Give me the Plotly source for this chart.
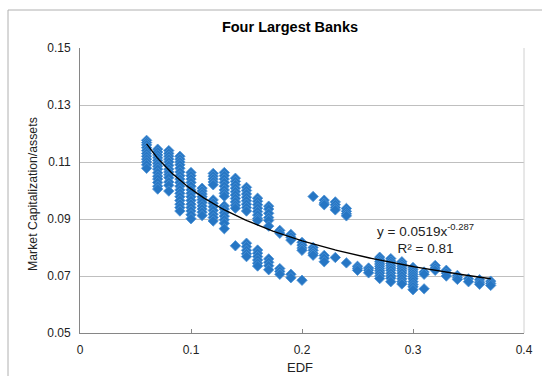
import numpy as np
import plotly.graph_objects as go

# EDF levels (x) and market capitalization / assets readings per level (y)
edf_columns = [0.06, 0.07, 0.08, 0.09, 0.10, 0.11, 0.12, 0.13, 0.14, 0.15,
               0.16, 0.17, 0.18, 0.19, 0.20, 0.21, 0.22, 0.23, 0.24, 0.25,
               0.26, 0.27, 0.28, 0.29, 0.30, 0.31, 0.32, 0.33, 0.34, 0.35,
               0.36, 0.37]
mcap_by_column = [
    [0.1176, 0.1168, 0.1160, 0.1150, 0.1140, 0.1130, 0.1120, 0.1110, 0.1100, 0.1090, 0.1078],
    [0.1145, 0.1135, 0.1125, 0.1115, 0.1105, 0.1095, 0.1085, 0.1075, 0.1062, 0.1050, 0.1040, 0.1028, 0.1015, 0.1005],
    [0.1140, 0.1130, 0.1120, 0.1110, 0.1100, 0.1088, 0.1075, 0.1065, 0.1055, 0.1045, 0.1030, 0.1018, 0.0998],
    [0.1120, 0.1110, 0.1100, 0.1090, 0.1078, 0.1065, 0.1052, 0.1040, 0.1028, 0.1015, 0.1002, 0.0990, 0.0978, 0.0965, 0.0952, 0.0940, 0.0928],
    [0.1063, 0.1052, 0.1040, 0.1028, 0.1015, 0.1002, 0.0990, 0.0978, 0.0965, 0.0952, 0.0940, 0.0928, 0.0915, 0.0901],
    [0.1008, 0.0998, 0.0988, 0.0978, 0.0968, 0.0958, 0.0946, 0.0935, 0.0924, 0.0912],
    [0.1060, 0.1050, 0.1040, 0.1030, 0.1020, 0.0967, 0.0955, 0.0943, 0.0930, 0.0917, 0.0905, 0.0893],
    [0.1063, 0.1052, 0.1040, 0.1028, 0.1015, 0.1002, 0.0990, 0.0980, 0.0946, 0.0935, 0.0922, 0.0910, 0.0897, 0.0885, 0.0866],
    [0.1043, 0.1032, 0.1020, 0.1008, 0.0996, 0.0984, 0.0972, 0.0960, 0.0948, 0.0938, 0.0806],
    [0.1011, 0.1000, 0.0988, 0.0976, 0.0964, 0.0952, 0.0940, 0.0928, 0.0815, 0.0803, 0.0790, 0.0778, 0.0768],
    [0.0973, 0.0962, 0.0950, 0.0938, 0.0926, 0.0914, 0.0902, 0.0895, 0.0791, 0.0780, 0.0768, 0.0756, 0.0745, 0.0735],
    [0.0945, 0.0935, 0.0920, 0.0905, 0.0895, 0.0875, 0.0760, 0.0748, 0.0736, 0.0722],
    [0.0860, 0.0850, 0.0726, 0.0716, 0.0706],
    [0.0846, 0.0836, 0.0826, 0.0706, 0.0694],
    [0.0818, 0.0808, 0.0798, 0.0790, 0.0685],
    [0.0979, 0.0800, 0.0790, 0.0780, 0.0773],
    [0.0966, 0.0956, 0.0950, 0.0772, 0.0762, 0.0750],
    [0.0960, 0.0950, 0.0940, 0.0932, 0.0765],
    [0.0937, 0.0927, 0.0918, 0.0911, 0.0746],
    [0.0734, 0.0727, 0.0720],
    [0.0728, 0.0720, 0.0711],
    [0.0766, 0.0758, 0.0750, 0.0742, 0.0734, 0.0726, 0.0718, 0.0710, 0.0700, 0.0691],
    [0.0761, 0.0752, 0.0744, 0.0736, 0.0728, 0.0720, 0.0710, 0.0700, 0.0692, 0.0680],
    [0.0750, 0.0742, 0.0734, 0.0726, 0.0718, 0.0710, 0.0700, 0.0690, 0.0680, 0.0672],
    [0.0730, 0.0722, 0.0714, 0.0706, 0.0698, 0.0690, 0.0680, 0.0670, 0.0662, 0.0652],
    [0.0714, 0.0706, 0.0655],
    [0.0737, 0.0728, 0.0720],
    [0.0720, 0.0710, 0.0700],
    [0.0702, 0.0694, 0.0688],
    [0.0690, 0.0680],
    [0.0687, 0.0678, 0.0671],
    [0.0682, 0.0674, 0.0667],
]

# Power trendline y = a * x^b shown on the chart
trend_a = 0.0519
trend_b = -0.287
trend_r2 = 0.81

x_ticks = [0, 0.1, 0.2, 0.3, 0.4]
y_ticks = [0.05, 0.07, 0.09, 0.11, 0.13, 0.15]

edf = [x for x, ys in zip(edf_columns, mcap_by_column) for _ in ys]
mcap = [y for ys in mcap_by_column for y in ys]

xt = np.linspace(min(edf), max(edf), 200)
yt = trend_a * xt ** trend_b

FONT = "Liberation Sans, Arial, sans-serif"
L, R, T, B = 80, 18, 48, 43
PW, PH = 542 - L - R, 376 - T - B


def px_x(p):
    return (p - L) / PW


def px_y(p):
    return (376 - B - p) / PH


fig = go.Figure()
fig.add_trace(go.Scatter(
    x=edf, y=mcap, mode="markers",
    marker=dict(symbol="diamond", size=8, color="#2676c4",
                line=dict(color="#4a90d4", width=0.8)),
    showlegend=False, hoverinfo="x+y"))
fig.add_trace(go.Scatter(
    x=xt, y=yt, mode="lines", line=dict(color="black", width=1.4),
    showlegend=False, hoverinfo="skip"))

fig.update_layout(
    width=542, height=376,
    margin=dict(l=L, r=R, t=T, b=B, autoexpand=False),
    paper_bgcolor="white", plot_bgcolor="white",
    font=dict(family=FONT, color="#222", size=12),
    title=dict(text="<b>Four Largest Banks</b>", xref="paper", x=px_x(290),
               xanchor="center", yref="container",
               y=1 - 27 / 376, yanchor="middle",
               font=dict(family=FONT, size=14.5, color="black")),
    xaxis=dict(range=[0, 0.4], tickvals=x_ticks,
               ticktext=[f"{v:g}" for v in x_ticks],
               showgrid=False, zeroline=False, automargin=False,
               showline=True, linecolor="#868686", linewidth=1,
               ticks="inside", ticklen=4, tickcolor="#868686",
               ticklabelstandoff=6,
               tickfont=dict(size=12, color="#222")),
    yaxis=dict(range=[0.05, 0.15], tickvals=y_ticks,
               ticktext=[f"{v:.2f}" for v in y_ticks],
               showgrid=True, gridcolor="#bfbfbf", gridwidth=1,
               zeroline=False, automargin=False,
               showline=True, linecolor="#868686", linewidth=1,
               ticks="", ticklabelstandoff=6,
               tickfont=dict(size=12, color="#222")),
)

# axis titles
fig.add_annotation(xref="paper", yref="paper", x=px_x(300), y=px_y(367),
                   xanchor="center", yanchor="middle",
                   text="EDF", showarrow=False,
                   font=dict(family=FONT, size=13, color="#222"))
fig.add_annotation(xref="paper", yref="paper", x=px_x(33), y=px_y(194),
                   xanchor="center", yanchor="middle",
                   text="Market Capitalization/assets", showarrow=False,
                   textangle=-90,
                   font=dict(family=FONT, size=12.3, color="#222"))

# plot area right border (light)
fig.add_shape(type="line", xref="paper", yref="paper", x0=1, x1=1, y0=0, y1=1,
              line=dict(color="#d0d0d0", width=1))
# outer chart frame (top and left edges visible)
fig.add_shape(type="line", xref="paper", yref="paper",
              x0=px_x(8), x1=1.1, y0=px_y(10), y1=px_y(10),
              line=dict(color="#b0b0b0", width=1))
fig.add_shape(type="line", xref="paper", yref="paper",
              x0=px_x(8), x1=px_x(8), y0=px_y(10), y1=-0.2,
              line=dict(color="#b0b0b0", width=1))

fig.add_annotation(
    x=0.311, y=0.0833, xref="x", yref="y", showarrow=False,
    xanchor="center", yanchor="middle",
    text=f"y = {trend_a}x<sup>{trend_b}</sup><br>R² = {trend_r2}",
    font=dict(family=FONT, size=13.5, color="#222"), align="center")

fig.write_html("out.html", config={"displayModeBar": False},
               post_script="document.body.style.margin='0';"
                           "document.body.style.overflow='hidden';")
